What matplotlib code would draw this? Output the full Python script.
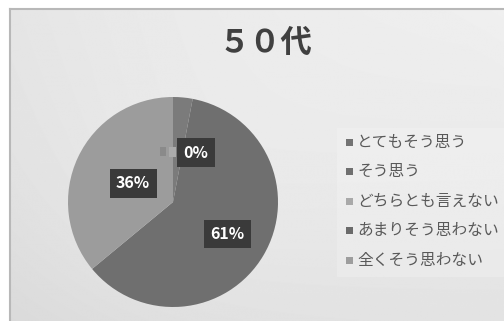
import numpy as np
import matplotlib
matplotlib.use("Agg")
import matplotlib.pyplot as plt
from matplotlib.patches import Rectangle
from matplotlib.lines import Line2D

plt.rcParams['font.family'] = ['Noto Sans CJK JP', 'DejaVu Sans']

title = "５０代"
categories = ["とてもそう思う", "そう思う", "どちらとも言えない", "あまりそう思わない", "全くそう思わない"]
values = [3, 61, 36, 0, 0]
slice_colors = ["#7b7b7b", "#6f6f6f", "#9c9c9c", "#6a6a6a", "#9a9a9a"]
legend_colors = ["#737373", "#6f6f6f", "#a9a9a9", "#6a6a6a", "#9d9d9d"]

W, H = 504, 321
fig = plt.figure(figsize=(W / 100, H / 100), dpi=100)
fig.patch.set_facecolor("white")

# chart area background with a soft gradient
bg = fig.add_axes([10 / W, 0, (W - 10) / W, (H - 9) / H])
yy, xx = np.mgrid[0:1:300j, 0:1:500j]
shade = 0.975 - 0.06 * (1 - xx) * 0.8 - 0.05 * yy
d = np.sqrt(((xx - 0.33) / 0.6) ** 2 + ((yy - 0.62) / 0.75) ** 2)
shade -= 0.03 * np.clip(d, 0, 1.2)
bg.imshow(shade, cmap="gray", vmin=0, vmax=1, aspect="auto",
          extent=[0, 1, 0, 1], origin="upper", interpolation="bilinear")
bg.set_xlim(0, 1)
bg.set_ylim(0, 1)
bg.axis("off")

# frame: top and left edges are visible
x0, y0 = 10 / W, 1 - 9 / H
fig.add_artist(Line2D([x0, 1], [y0, y0], transform=fig.transFigure,
                      color="#b8b8b8", linewidth=1.5, zorder=5))
fig.add_artist(Line2D([x0, x0], [0, y0], transform=fig.transFigure,
                      color="#b8b8b8", linewidth=1.5, zorder=5))

# pie
cx, cy, r = 173, 202, 105
ax = fig.add_axes([(cx - r) / W, (H - cy - r) / H, 2 * r / W, 2 * r / H])
wedges, _ = ax.pie(values, colors=slice_colors, startangle=90, counterclock=False,
                   wedgeprops=dict(linewidth=0))
ax.set_xlim(-1, 1)
ax.set_ylim(-1, 1)
ax.set_aspect("auto")
ax.axis("off")

box = dict(boxstyle="square,pad=0.4", facecolor="#3a3a3a", edgecolor="none")
label_radius = [None, 0.6, 0.42, None, None]
start = 0.0
total = sum(values)
for v, rf in zip(values, label_radius):
    mid = start + v / 2
    start += v
    if rf is None:
        continue
    ang = np.deg2rad(90 - 360 * mid / total)
    ax.text(rf * np.cos(ang), rf * np.sin(ang), f"{round(100 * v / total)}%",
            ha="center", va="center", color="white", fontsize=11.5,
            fontweight="bold", bbox=box, zorder=6)

# label shared by the empty slices at the top of the pie
zero_pct = round(100 * values[3] / total)
ax.text(0.22, 0.47, f"{zero_pct}%", ha="center", va="center", color="white",
        fontsize=11.5, fontweight="bold", bbox=box, zorder=6)
ax.add_patch(Rectangle((-0.12, 0.44), 0.05, 0.08, facecolor="#8a8a8a",
                       edgecolor="none", zorder=6))
ax.add_patch(Rectangle((-0.04, 0.43), 0.07, 0.09, facecolor="#ababab",
                       edgecolor="none", zorder=6))

# title
fig.text(265 / W, 1 - 43 / H, title, ha="center", va="center",
         fontsize=22.5, fontweight="bold", color="#404040")

# legend
fig.patches.append(Rectangle((337 / W, 1 - 277 / H), (W - 337) / W, 149 / H,
                             transform=fig.transFigure, facecolor="white",
                             alpha=0.2, edgecolor="none", zorder=2))
for i, (cat, col) in enumerate(zip(categories, legend_colors)):
    y = 142 + i * 29.5
    fig.patches.append(Rectangle((346 / W, 1 - (y + 3.5) / H), 7 / W, 7 / H,
                                 transform=fig.transFigure, facecolor=col,
                                 edgecolor="none", zorder=3))
    fig.text(357 / W, 1 - y / H, cat, ha="left", va="center",
             fontsize=11.3, color="#595959", zorder=3)

fig.savefig("out.png", dpi=100)
